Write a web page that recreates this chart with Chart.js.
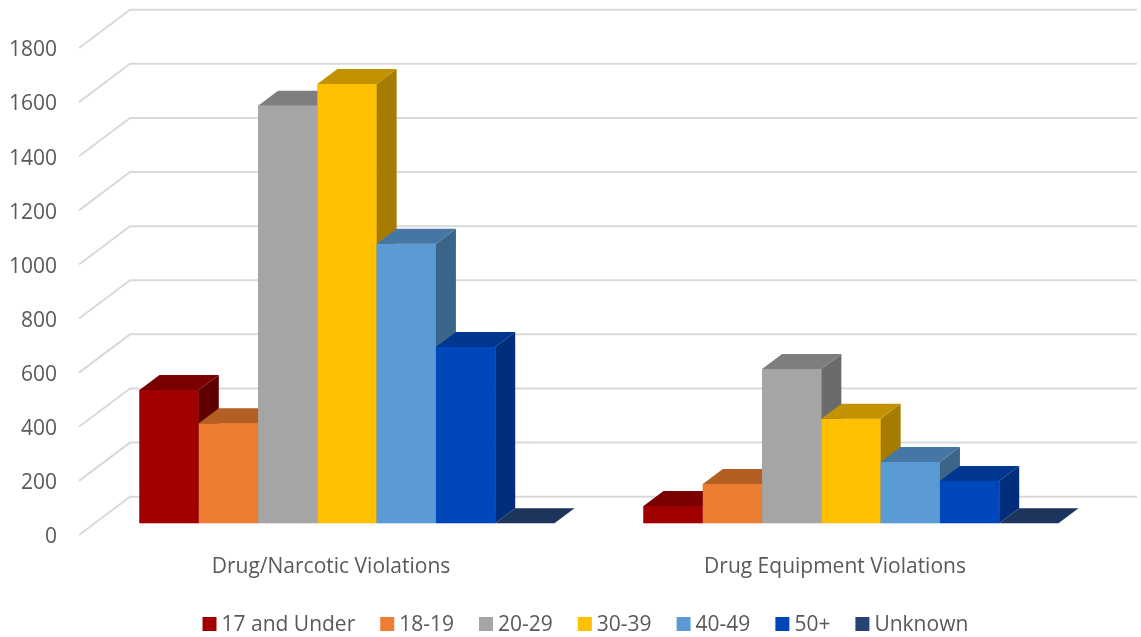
<!DOCTYPE html>
<html>
<head>
<meta charset="utf-8">
<title>Drug violations by age</title>
<script src="https://cdn.jsdelivr.net/npm/chart.js@4"></script>
<style>
  body { margin: 0; background: #fff; }
  canvas { display: block; }
</style>
</head>
<body>
<canvas id="grafico" width="1141" height="637"></canvas>
<script>
// data
const categories = ["Drug/Narcotic Violations", "Drug Equipment Violations"];
const ageGroups = ["17 and Under", "18-19", "20-29", "30-39", "40-49", "50+", "Unknown"];
const under17 = [493, 64];
const age18to19 = [370, 145];
const age20to29 = [1543, 570];
const age30to39 = [1624, 386];
const age40to49 = [1033, 227];
const age50plus = [652, 156];
const unknown = [0, 0];
const seriesValues = [under17, age18to19, age20to29, age30to39, age40to49, age50plus, unknown];

// front, top and side face colours of each series
const frontColors = ["#A00000", "#ED7D31", "#A5A5A5", "#FFC000", "#5B9BD5", "#0047BB", "#264478"];
const topColors = ["#7A0000", "#B35F23", "#7E7E7E", "#C39200", "#4676A3", "#00368F", "#1D345C"];
const sideColors = ["#5F0000", "#9A5020", "#6B6B6B", "#A67C00", "#3B6489", "#002E7A", "#182B4C"];

const FONT = "'Open Sans', sans-serif";
const TEXT_COLOR = "#595959";
const DEPTH_X = 20;
const DEPTH_Y = 15;

function face(ctx, color, pts) {
  ctx.fillStyle = color;
  ctx.beginPath();
  ctx.moveTo(pts[0][0], pts[0][1]);
  for (let i = 1; i < pts.length; i++) ctx.lineTo(pts[i][0], pts[i][1]);
  ctx.closePath();
  ctx.fill();
}

// side wall and back wall lines, one per tick
const wallGrid = {
  id: "wallGrid",
  beforeDatasetsDraw(chart) {
    const ctx = chart.ctx;
    const y = chart.scales.y;
    ctx.save();
    ctx.strokeStyle = "#D9D9D9";
    ctx.lineWidth = 2;
    y.ticks.forEach(t => {
      const p = y.getPixelForValue(t.value);
      ctx.beginPath();
      ctx.moveTo(79, p + 11.7);
      ctx.lineTo(130, p - 26.6);
      ctx.lineTo(1137, p - 26.6);
      ctx.stroke();
    });
    ctx.restore();
  }
};

// repaint the bars left to right with their top and side faces,
// so each bar covers the side of the one before it
const barDepth = {
  id: "barDepth",
  afterDatasetsDraw(chart) {
    const ctx = chart.ctx;
    ctx.save();
    chart.data.datasets.forEach((ds, i) => {
      chart.getDatasetMeta(i).data.forEach(bar => {
        const p = bar.getProps(["x", "y", "base", "width"], true);
        const l = p.x - p.width / 2;
        const r = p.x + p.width / 2;
        bar.draw(ctx);
        face(ctx, sideColors[i], [[r, p.y], [r + DEPTH_X, p.y - DEPTH_Y], [r + DEPTH_X, p.base - DEPTH_Y], [r, p.base]]);
        face(ctx, topColors[i], [[l, p.y], [l + DEPTH_X, p.y - DEPTH_Y], [r + DEPTH_X, p.y - DEPTH_Y], [r, p.y]]);
      });
    });
    ctx.restore();
  }
};

// legend along the bottom, tighter swatch-to-text gap than the built in one
const bottomLegend = {
  id: "bottomLegend",
  afterDraw(chart) {
    const ctx = chart.ctx;
    ctx.save();
    ctx.font = "21px " + FONT;
    ctx.textBaseline = "middle";
    let x = 202.5;
    chart.data.datasets.forEach((ds, i) => {
      ctx.fillStyle = frontColors[i];
      ctx.fillRect(x, 617, 14, 14);
      ctx.fillStyle = TEXT_COLOR;
      ctx.fillText(ds.label, x + 19, 625);
      x += 19 + ctx.measureText(ds.label).width + 25;
    });
    ctx.restore();
  }
};

new Chart(document.getElementById("grafico").getContext("2d"), {
  type: "bar",
  data: {
    labels: categories,
    datasets: ageGroups.map((nome, i) => ({
      label: nome,
      data: seriesValues[i],
      backgroundColor: frontColors[i],
      borderWidth: 0,
      categoryPercentage: 0.8234,
      barPercentage: 1
    }))
  },
  options: {
    responsive: false,
    animation: false,
    layout: { padding: { top: 36.3, right: 38, left: 0, bottom: 0 } },
    plugins: { legend: { display: false }, tooltip: { enabled: false } },
    scales: {
      x: {
        grid: { display: false },
        border: { display: false },
        afterFit(scale) { scale.height = 113.7; },
        ticks: {
          color: TEXT_COLOR,
          font: { family: FONT, size: 21 },
          padding: 23,
          labelOffset: -16,
          maxRotation: 0
        }
      },
      y: {
        min: 0,
        max: 1800,
        grid: { display: false },
        border: { display: false },
        afterFit(scale) {
          scale.width = 95;
          scale.paddingTop = 0;
          scale.paddingBottom = 0;
        },
        ticks: {
          stepSize: 200,
          callback: v => String(v),
          color: TEXT_COLOR,
          font: { family: FONT, size: 21 },
          padding: 30,
          labelOffset: 14
        }
      }
    }
  },
  plugins: [wallGrid, barDepth, bottomLegend]
});
</script>
</body>
</html>
